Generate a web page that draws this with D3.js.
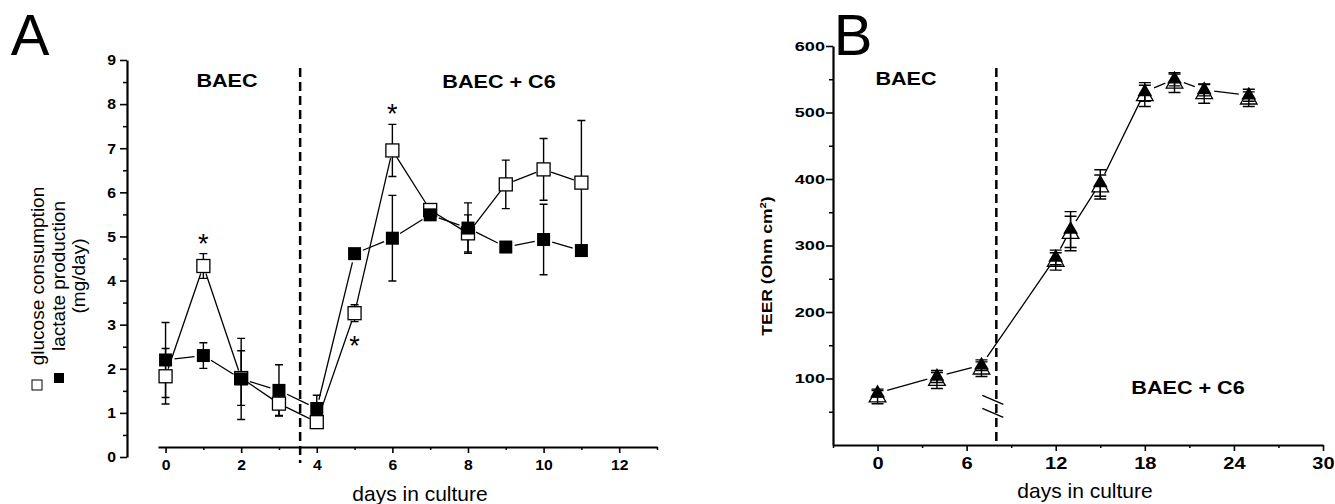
<html>
  <head>
    <style>
      body { margin: 0; background: #fff; }
      svg { display: block; font-family: Arial, "Liberation Sans", sans-serif; }
      .axis path, .axis line { stroke: #000; }
      .axis text { font-weight: bold; fill: #000; }
    </style>
    <script src="https://cdn.jsdelivr.net/npm/d3@7"></script>
  </head>
  <body>
    <div id="chart"></div>
    <script>
      // panel A: glucose consumption / lactate production
      const daysA = [0, 1, 2, 3, 4, 5, 6, 7, 8, 9, 10, 11];
      const glucose = [1.83, 4.33, 1.79, 1.21, 0.79, 3.26, 6.95, 5.6, 5.07, 6.18, 6.52, 6.22];
      const glucoseErr = [0.63, 0.28, 0.62, 0.27, 0.1, 0.19, 0.59, 0.08, 0.42, 0.55, 0.7, 1.41];
      const lactate = [2.2, 2.3, 1.77, 1.51, 1.1, 4.61, 4.96, 5.49, 5.19, 4.76, 4.93, 4.68];
      const lactateErr = [0.85, 0.29, 0.92, 0.58, 0.3, 0.05, 0.97, 0.1, 0.57, 0.05, 0.8, 0.05];
      const starsA = [
        { day: 1, side: "above" },
        { day: 6, side: "above" },
        { day: 5, side: "below" },
      ];
      const xTicksA = [0, 2, 4, 6, 8, 10, 12];
      const xMinorA = [1, 3, 5, 7, 9, 11, 13];
      const yTicksA = [0, 1, 2, 3, 4, 5, 6, 7, 8, 9];
      const yMinorA = [0.5, 1.5, 2.5, 3.5, 4.5, 5.5, 6.5, 7.5, 8.5];
      const switchDayA = 3.56;

      // panel B: TEER
      const daysB = [0, 4, 7, 12, 13, 15, 18, 20, 22, 25];
      const teerFilled = [78, 103, 120, 282, 324, 394, 531, 550, 534, 526];
      const teerFilledErr = [6, 9, 8, 11, 27, 20, 14, 10, 9, 9];
      const teerOpen = [72, 97, 114, 276, 318, 388, 525, 544, 528, 520];
      const teerOpenErr = [10, 12, 11, 13, 26, 18, 16, 14, 14, 11];
      const xTicksB = [0, 6, 12, 18, 24, 30];
      const xMinorB = [-3, 3, 9, 15, 21, 27];
      const yTicksB = [100, 200, 300, 400, 500, 600];
      const yMinorB = [50, 150, 250, 350, 450, 550];
      const switchDayB = 8;
      const breakValue = 58;

      const width = 1335,
        height = 504;

      const svg = d3
        .select("#chart")
        .append("svg")
        .attr("width", width)
        .attr("height", height)
        .attr("viewBox", [0, 0, width, height]);

      // ---------- helpers ----------

      // the source figure uses a wide typeface: widen glyphs around their anchor
      function stretch(sel, sx) {
        sel.each(function () {
          const t = d3.select(this);
          const x = +t.attr("x") || 0,
            y = +t.attr("y") || 0;
          const prev = t.attr("transform") || "";
          t.attr("x", 0)
            .attr("y", 0)
            .attr("transform", `${prev} translate(${x},${y}) scale(${sx},1)`);
        });
        return sel;
      }

      function errorBars(g, x, y, days, vals, errs, cap) {
        g.append("path")
          .attr("fill", "none")
          .attr("stroke", "#000")
          .attr("stroke-width", 1.4)
          .attr(
            "d",
            days
              .map((d, i) => {
                const px = x(d),
                  lo = y(vals[i] - errs[i]),
                  hi = y(vals[i] + errs[i]);
                return `M${px},${lo}V${hi}M${px - cap},${hi}h${2 * cap}M${px - cap},${lo}h${2 * cap}`;
              })
              .join("")
          );
      }

      // line segments that stop short of the symbols
      function gappedLine(g, x, y, days, vals, gap) {
        const pts = days.map((d, i) => [x(d), y(vals[i])]);
        const segs = d3.pairs(pts).map(([a, b]) => {
          const dx = b[0] - a[0],
            dy = b[1] - a[1],
            len = Math.hypot(dx, dy);
          const ux = dx / len,
            uy = dy / len;
          return `M${a[0] + ux * gap},${a[1] + uy * gap}L${b[0] - ux * gap},${b[1] - uy * gap}`;
        });
        g.append("path")
          .attr("fill", "none")
          .attr("stroke", "#000")
          .attr("stroke-width", 1.3)
          .attr("d", segs.join(""));
      }

      function axes(g, x, y, o) {
        const ax = g.append("g").attr("class", "axis");
        ax.append("g")
          .attr("transform", `translate(0,${o.xAt})`)
          .call(d3.axisBottom(x).tickValues(o.xMinor).tickSize(3).tickSizeOuter(0).tickFormat(""))
          .call((s) => s.select(".domain").remove())
          .selectAll("line")
          .attr("stroke-width", 1.5);
        ax.append("g")
          .attr("transform", `translate(0,${o.xAt})`)
          .call(
            d3.axisBottom(x).tickValues(o.xTicks).tickSize(6).tickSizeOuter(0).tickPadding(o.xPad)
          )
          .call((s) => s.select(".domain").attr("stroke-width", 2.2))
          .call((s) => s.selectAll("line").attr("stroke-width", 1.6))
          .call((s) => stretch(s.selectAll("text").attr("font-size", o.xFont), o.xStretch));
        ax.append("g")
          .attr("transform", `translate(${o.yAt},0)`)
          .call(d3.axisLeft(y).tickValues(o.yMinor).tickSize(4).tickSizeOuter(0).tickFormat(""))
          .call((s) => s.select(".domain").remove())
          .selectAll("line")
          .attr("stroke-width", 1.5);
        ax.append("g")
          .attr("transform", `translate(${o.yAt},0)`)
          .call(
            d3.axisLeft(y).tickValues(o.yTicks).tickSize(7).tickSizeOuter(0).tickPadding(o.yPad)
          )
          .call((s) => s.select(".domain").attr("stroke-width", 2.2))
          .call((s) => s.selectAll("line").attr("stroke-width", 1.6))
          .call((s) => stretch(s.selectAll("text").attr("font-size", o.yFont), o.yStretch));
      }

      function dashed(g, x1, y1, y2) {
        g.append("line")
          .attr("x1", x1)
          .attr("x2", x1)
          .attr("y1", y1)
          .attr("y2", y2)
          .attr("stroke", "#000")
          .attr("stroke-width", 2.5)
          .attr("stroke-dasharray", "9,5");
      }

      function label(g, txt, x, y, size, weight, anchor = "middle") {
        return g
          .append("text")
          .attr("x", x)
          .attr("y", y)
          .attr("font-size", size)
          .attr("font-weight", weight)
          .attr("text-anchor", anchor)
          .text(txt);
      }

      // ---------- panel A ----------
      const xA = d3.scaleLinear().domain([-0.2, 13]).range([158, 657]);
      const yA = d3.scaleLinear().domain([0, 9]).range([457, 60]);
      const gA = svg.append("g");

      axes(gA, xA, yA, {
        xAt: 447,
        yAt: 127,
        xTicks: xTicksA,
        xMinor: xMinorA,
        yTicks: yTicksA,
        yMinor: yMinorA,
        xPad: 6,
        yPad: 4,
        xFont: 15,
        yFont: 15,
        xStretch: 1.05,
        yStretch: 1.05,
      });

      dashed(gA, xA(switchDayA), 68, 463);

      errorBars(gA, xA, yA, daysA, glucose, glucoseErr, 4);
      errorBars(gA, xA, yA, daysA, lactate, lactateErr, 4);
      gappedLine(gA, xA, yA, daysA, glucose, 8);
      gappedLine(gA, xA, yA, daysA, lactate, 9);

      const sq = 13;
      gA.append("g")
        .selectAll("rect")
        .data(daysA)
        .join("rect")
        .attr("x", (d) => xA(d) - sq / 2)
        .attr("y", (d, i) => yA(glucose[i]) - sq / 2)
        .attr("width", sq)
        .attr("height", sq)
        .attr("fill", "#fff")
        .attr("stroke", "#000")
        .attr("stroke-width", 1.3);
      gA.append("g")
        .selectAll("rect")
        .data(daysA)
        .join("rect")
        .attr("x", (d) => xA(d) - sq / 2)
        .attr("y", (d, i) => yA(lactate[i]) - sq / 2)
        .attr("width", sq)
        .attr("height", sq)
        .attr("fill", "#000");

      starsA.forEach((s) => {
        const i = daysA.indexOf(s.day);
        const yy =
          s.side === "above"
            ? yA(glucose[i] + glucoseErr[i]) - 1
            : yA(glucose[i] - glucoseErr[i]) + 33;
        label(gA, "*", xA(s.day), yy, 27, "normal");
      });

      stretch(label(gA, "BAEC", 227, 87, 18, "bold"), 1.2);
      stretch(label(gA, "BAEC + C6", 499, 88, 18, "bold"), 1.2);
      label(gA, "days in culture", 420, 501, 21, "normal");
      label(gA, "A", 30, 55, 58, "normal");

      // y label with legend symbols, rotated
      const yl = gA.append("g").attr("transform", "translate(0,276) rotate(-90)");
      label(yl, "glucose consumption", 0, 44, 19, "normal");
      label(yl, "lactate production", 0, 65, 19, "normal");
      label(yl, "(mg/day)", 0, 85, 19, "normal");
      gA.append("rect")
        .attr("x", 32)
        .attr("y", 380)
        .attr("width", 10)
        .attr("height", 10)
        .attr("fill", "#fff")
        .attr("stroke", "#000")
        .attr("stroke-width", 1);
      gA.append("rect")
        .attr("x", 54)
        .attr("y", 373)
        .attr("width", 10)
        .attr("height", 10)
        .attr("fill", "#000");

      // ---------- panel B ----------
      const xB = d3.scaleLinear().domain([-3, 30]).range([833, 1323]);
      const yB = d3.scaleLinear().domain([0, 600]).range([445, 46]);
      const gB = svg.append("g");

      axes(gB, xB, yB, {
        xAt: 445,
        yAt: 833,
        xTicks: xTicksB,
        xMinor: xMinorB,
        yTicks: yTicksB,
        yMinor: yMinorB,
        xPad: 7,
        yPad: 1,
        xFont: 16,
        yFont: 12.5,
        xStretch: 1.25,
        yStretch: 1.45,
      });

      dashed(gB, xB(switchDayB), 68, 445);

      // axis break mark across the dashed line
      const bx = xB(switchDayB),
        by = yB(breakValue);
      gB.append("path")
        .attr("fill", "none")
        .attr("stroke", "#000")
        .attr("stroke-width", 1.4)
        .attr("d", `M${bx - 14},${by - 11}l21,9M${bx - 14},${by + 2}l21,9`);

      errorBars(gB, xB, yB, daysB, teerFilled, teerFilledErr, 6);
      errorBars(gB, xB, yB, daysB, teerOpen, teerOpenErr, 6);
      gappedLine(gB, xB, yB, daysB, teerFilled, 10);

      gB.append("g")
        .selectAll("path")
        .data(daysB)
        .join("path")
        .attr("transform", (d, i) => `translate(${xB(d)},${yB(teerFilled[i])})`)
        .attr("d", d3.symbol(d3.symbolTriangle, 95))
        .attr("fill", "#000");
      gB.append("g")
        .selectAll("path")
        .data(daysB)
        .join("path")
        .attr("transform", (d, i) => `translate(${xB(d)},${yB(teerOpen[i])})`)
        .attr("d", d3.symbol(d3.symbolTriangle, 120))
        .attr("fill", "none")
        .attr("stroke", "#000")
        .attr("stroke-width", 1.3);

      stretch(label(gB, "BAEC", 906, 85, 18, "bold"), 1.2);
      stretch(label(gB, "BAEC + C6", 1188, 394, 18, "bold"), 1.2);
      label(gB, "days in culture", 1085, 498, 21, "normal");
      label(gB, "B", 853, 55, 58, "normal");

      const ylB = label(gB, "", 0, 0, 14, "bold").attr(
        "transform",
        "translate(772,266) rotate(-90) scale(1.25,1)"
      );
      ylB.append("tspan").text("TEER (Ohm cm");
      ylB.append("tspan").attr("font-size", 9).attr("dy", -6).text("2");
      ylB.append("tspan").attr("dy", 6).text(")");
    </script>
  </body>
</html>
